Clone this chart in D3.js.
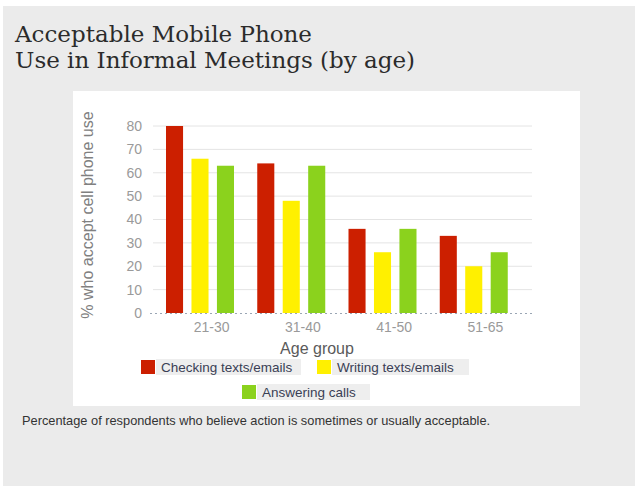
<!DOCTYPE html>
<html>
<head>
<meta charset="utf-8">
<script src="https://cdn.jsdelivr.net/npm/d3@7"></script>
<style>
  html, body { margin: 0; padding: 0; background: #ffffff; }
  svg { display: block; }
</style>
</head>
<body>
<svg id="chart" width="635" height="487"></svg>
<script>
// Age groups on the x axis
const categories = ["21-30", "31-40", "41-50", "51-65"];
// Series names shown in the legend
const seriesNames = ["Checking texts/emails", "Writing texts/emails", "Answering calls"];
const seriesColors = ["#cc1f00", "#fff000", "#8bd21d"];
// Percent of respondents per age group for each series
const checkingValues = [80, 64, 36, 33];
const writingValues = [66, 48, 26, 20];
const answeringValues = [63, 63, 36, 26];
const yTicks = [0, 10, 20, 30, 40, 50, 60, 70, 80];

const seriesValues = [checkingValues, writingValues, answeringValues];

const svg = d3.select("#chart");

// Page backgrounds: grey card and white chart panel
svg.append("rect").attr("x", 3).attr("y", 6).attr("width", 632).attr("height", 480).attr("fill", "#ebebeb");
svg.append("rect").attr("x", 73).attr("y", 91).attr("width", 507).attr("height", 315).attr("fill", "#ffffff");

// Title
const title = svg.append("text")
  .attr("font-family", "'DejaVu Serif', serif")
  .attr("font-size", 23)
  .attr("fill", "#2b2b2b");
title.append("tspan").attr("x", 15).attr("y", 42).text("Acceptable Mobile Phone");
title.append("tspan").attr("x", 15).attr("y", 68).text("Use in Informal Meetings (by age)");

// Scales
const plotLeft = 153, plotRight = 532;
const y = d3.scaleLinear().domain([0, 80]).range([313, 126]);
const x0 = d3.scaleBand().domain(categories).range([153, 518]).paddingInner(0).paddingOuter(0);
const x1 = d3.scaleBand().domain(d3.range(seriesNames.length)).range([13, 81]).paddingInner(0.33).paddingOuter(0);

// Horizontal gridlines
svg.append("g").selectAll("line")
  .data(yTicks.filter(d => d > 0))
  .join("line")
  .attr("x1", plotLeft).attr("x2", plotRight)
  .attr("y1", d => y(d)).attr("y2", d => y(d))
  .attr("stroke", "#e4e4e4").attr("stroke-width", 1);

// Y axis tick labels
const yAxis = d3.axisLeft(y).tickValues(yTicks).tickSize(0).tickPadding(0);
const yg = svg.append("g").attr("transform", "translate(142,0)").call(yAxis);
yg.select(".domain").remove();
yg.selectAll("text")
  .attr("font-family", "'Liberation Sans', Arial, sans-serif")
  .attr("font-size", 14)
  .attr("fill", "#9a9a9a");

// Bars
const groups = svg.append("g").selectAll("g")
  .data(categories)
  .join("g")
  .attr("transform", d => `translate(${x0(d)},0)`);

groups.selectAll("rect")
  .data((c, ci) => seriesValues.map((vals, si) => ({ si, v: vals[ci] })))
  .join("rect")
  .attr("x", d => x1(d.si))
  .attr("width", x1.bandwidth())
  .attr("y", d => y(d.v))
  .attr("height", d => y(0) - y(d.v))
  .attr("fill", d => seriesColors[d.si]);

// Dotted baseline
svg.append("line")
  .attr("x1", 150).attr("x2", plotRight)
  .attr("y1", y(0) + 0.5).attr("y2", y(0) + 0.5)
  .attr("stroke", "#9aa6b4").attr("stroke-width", 1)
  .attr("stroke-dasharray", "2,3");

// X axis labels
const xAxis = d3.axisBottom(x0).tickSize(0).tickPadding(0);
const xg = svg.append("g").attr("transform", "translate(13,322)").call(xAxis);
xg.select(".domain").remove();
xg.selectAll("text")
  .attr("font-family", "'Liberation Sans', Arial, sans-serif")
  .attr("font-size", 14)
  .attr("fill", "#9a9a9a");

// Axis titles
svg.append("text")
  .attr("x", 317).attr("y", 354)
  .attr("text-anchor", "middle")
  .attr("font-family", "'Liberation Sans', Arial, sans-serif")
  .attr("font-size", 16)
  .attr("fill", "#5a5a5a")
  .text("Age group");

svg.append("text")
  .attr("transform", "translate(93,215) rotate(-90)")
  .attr("text-anchor", "middle")
  .attr("font-family", "'Liberation Sans', Arial, sans-serif")
  .attr("font-size", 16)
  .attr("fill", "#808080")
  .text("% who accept cell phone use");

// Legend
const legendItems = [
  { i: 0, x: 141, y: 360, w: 145 },
  { i: 1, x: 317, y: 360, w: 137 },
  { i: 2, x: 242, y: 385, w: 113 }
];
const lg = svg.append("g").selectAll("g")
  .data(legendItems)
  .join("g")
  .attr("transform", d => `translate(${d.x},${d.y})`);
lg.append("rect")
  .attr("x", 15).attr("y", -1).attr("width", d => d.w).attr("height", 16)
  .attr("fill", "#eeeeee");
lg.append("rect")
  .attr("x", 0).attr("y", 0).attr("width", 14).attr("height", 14)
  .attr("fill", d => seriesColors[d.i]);
lg.append("text")
  .attr("x", 20).attr("y", 11.5)
  .attr("font-family", "'Liberation Sans', Arial, sans-serif")
  .attr("font-size", 13.5)
  .attr("fill", "#3a3f55")
  .text(d => seriesNames[d.i]);

// Footnote
svg.append("text")
  .attr("x", 22).attr("y", 425)
  .attr("font-family", "'Liberation Sans', Arial, sans-serif")
  .attr("font-size", 12.8)
  .attr("fill", "#333333")
  .text("Percentage of respondents who believe action is sometimes or usually acceptable.");
</script>
</body>
</html>
